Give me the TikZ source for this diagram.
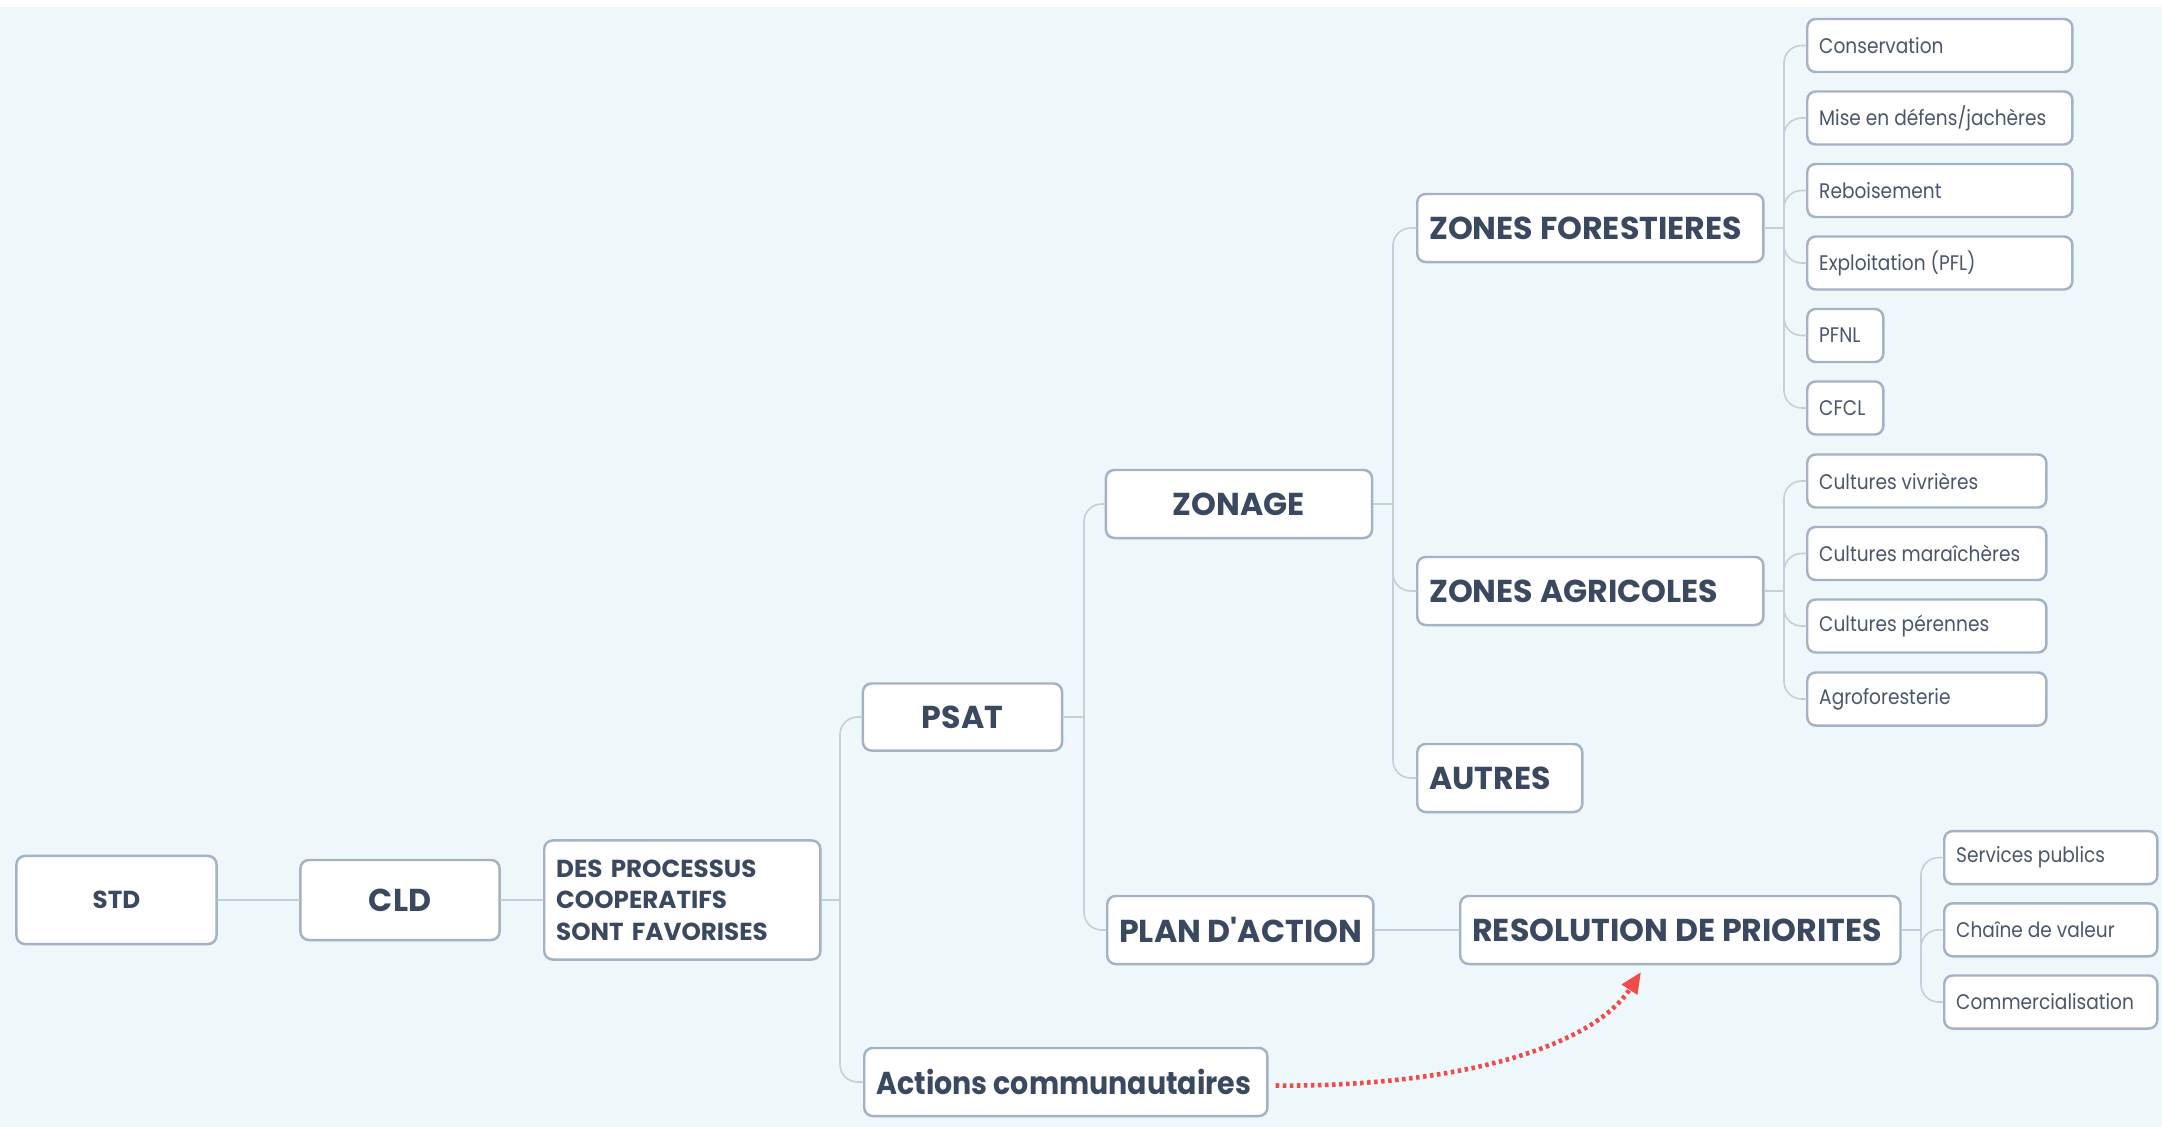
\documentclass[tikz,border=0pt]{standalone}
\usepackage{fontspec}
\setmainfont{Poppins}
\newfontfamily\leaffam[FakeStretch=0.88]{Poppins}
\newfontfamily\narrowfam[FakeStretch=0.9]{Poppins}
\usetikzlibrary{arrows,arrows.meta}
\definecolor{bgblue}{HTML}{EEF7FA}
\definecolor{boxline}{HTML}{A3B2C5}
\definecolor{linkline}{HTML}{C3D0DB}
\definecolor{txtdark}{HTML}{3B4960}
\definecolor{txtleaf}{HTML}{4A566C}
\definecolor{dotred}{HTML}{F04B4B}
\begin{document}
\begin{tikzpicture}[x=0.01cm, y=-0.01cm, line cap=round, line join=round,
    box/.style={draw=boxline, line width=0.7pt, rounded corners=2.4pt, fill=white, text=txtdark, inner xsep=0.12cm, inner ysep=0pt},
    lefttext/.style={anchor=west, execute at begin node={\hbox to #1\bgroup}, execute at end node={\hss\egroup}},
    big/.style={box, font=\bfseries\fontsize{9}{11}\selectfont, minimum height=0.68cm},
    bigl/.style={big, lefttext=#1},
    mid/.style={box, font=\bfseries\fontsize{7}{9}\selectfont},
    leaf/.style={box, text=txtleaf, font=\leaffam\fontsize{6}{7}\selectfont, minimum height=0.53cm, lefttext=#1},
    link/.style={draw=linkline, line width=0.45pt}]
    \useasboundingbox (0,0) rectangle (2162,1127);
    \fill[white] (0,0) rectangle (2162,1127);
    \fill[bgblue] (0,7) rectangle (2162,1127);

    % trunks
    \coordinate (t1) at (840,0);
    \coordinate (t2) at (1084,0);
    \coordinate (t3) at (1393,0);
    \coordinate (t4) at (1784,0);
    \coordinate (t5) at (1921,0);

    % main line
    \node[mid, minimum width=2cm, minimum height=0.88cm] (std) at (116.5,900) {STD};
    \node[big, minimum width=1.99cm, minimum height=0.8cm] (cld) at (400,900) {CLD};
    \node[mid, anchor=west, text width=2.52cm, align=left, minimum height=1.19cm] (des) at (543,900) {DES PROCESSUS\\COOPERATIFS\\SONT FAVORISES};
    \node[big, minimum width=1.99cm, minimum height=0.67cm] (psat) at (962.5,717) {PSAT};
    \node[bigl=3.79cm, font=\narrowfam\bfseries\fontsize{9}{11}\selectfont] (actions) at (863,1082) {Actions communautaires};
    \node[big, minimum width=2.66cm] (zonage) at (1239,504) {ZONAGE};
    \node[bigl=2.42cm] (plan) at (1106,930) {PLAN D\textquotesingle ACTION};
    \node[bigl=3.22cm] (zf) at (1416,228) {ZONES FORESTIERES};
    \node[bigl=3.22cm] (za) at (1416,591) {ZONES AGRICOLES};
    \node[bigl=1.41cm] (autres) at (1416,778) {AUTRES};
    \node[bigl=4.16cm] (res) at (1459,930) {RESOLUTION DE PRIORITES};

    % forest leaves
    \node[leaf=2.41cm] (fz1) at (1806,45.5) {Conservation};
    \node[leaf=2.41cm] (fz2) at (1806,118) {Mise en défens/jachères};
    \node[leaf=2.41cm] (fz3) at (1806,190.5) {Reboisement};
    \node[leaf=2.41cm] (fz4) at (1806,263) {Exploitation (PFL)};
    \node[leaf=0.52cm] (fz5) at (1806,335.5) {PFNL};
    \node[leaf=0.52cm] (fz6) at (1806,408) {CFCL};

    % agricultural leaves
    \node[leaf=2.15cm] (ag1) at (1806,481) {Cultures vivrières};
    \node[leaf=2.15cm] (ag2) at (1806,553.5) {Cultures maraîchères};
    \node[leaf=2.15cm] (ag3) at (1806,626) {Cultures pérennes};
    \node[leaf=2.15cm] (ag4) at (1806,699) {Agroforesterie};

    % priority leaves
    \node[leaf=1.89cm] (pr1) at (1943,857.6) {Services publics};
    \node[leaf=1.89cm] (pr2) at (1943,929.8) {Chaîne de valeur};
    \node[leaf=1.89cm] (pr3) at (1943,1002) {Commercialisation};

    % links
    \draw[link] (std) -- (cld);
    \draw[link] (cld) -- (des);
    \draw[link] (plan) -- (res);
    \draw[link] (des.east) -- (des.east -| t1);
    \foreach \c in {psat, actions}
        \draw[link, rounded corners=5pt] (des.east -| t1) |- (\c.west);
    \draw[link] (psat.east) -- (psat.east -| t2);
    \foreach \c in {zonage, plan}
        \draw[link, rounded corners=5pt] (psat.east -| t2) |- (\c.west);
    \draw[link] (zonage.east) -- (zonage.east -| t3);
    \foreach \c in {zf, za, autres}
        \draw[link, rounded corners=5pt] (zonage.east -| t3) |- (\c.west);
    \draw[link] (zf.east) -- (zf.east -| t4);
    \foreach \c in {fz1, fz2, fz3, fz4, fz5, fz6}
        \draw[link, rounded corners=5pt] (zf.east -| t4) |- (\c.west);
    \draw[link] (za.east) -- (za.east -| t4);
    \foreach \c in {ag1, ag2, ag3, ag4}
        \draw[link, rounded corners=5pt] (za.east -| t4) |- (\c.west);
    \draw[link] (res.east) -- (res.east -| t5);
    \foreach \c in {pr1, pr2, pr3}
        \draw[link, rounded corners=5pt] (res.east -| t5) |- (\c.west);

    % dotted relation
    \coordinate (tip) at (1641,972);
    \draw[dotred, line width=1.3pt, dash pattern=on 1pt off 1pt, line cap=butt, -{Triangle[length=6pt, width=5pt]}] ([xshift=2pt, yshift=-1pt]actions.east) .. controls (1450,1087) and (1590,1050) .. (tip);
\end{tikzpicture}
\end{document}
